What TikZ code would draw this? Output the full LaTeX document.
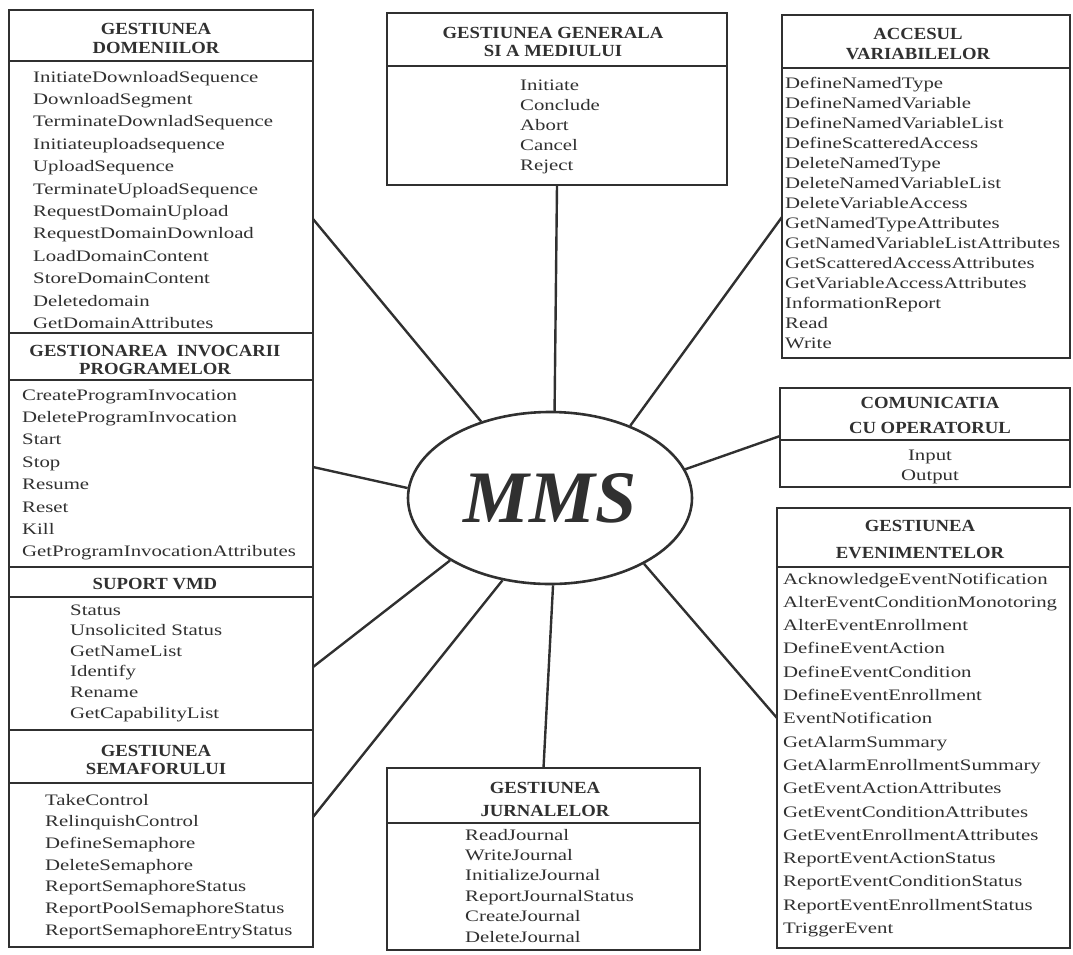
\documentclass[tikz,border=0pt]{standalone}
\usepackage{fontspec}
\setmainfont{Liberation Serif}[FakeStretch=1.3]
\newfontfamily\mmsfont{Liberation Serif}
\newfontfamily\ttlfont{Liberation Serif}[FakeStretch=1.1]
\usetikzlibrary{shapes.geometric}
\definecolor{ink}{HTML}{303030}
\tikzset{
  box/.style={draw=ink, line width=2.6pt, inner sep=0pt, outer sep=0pt, anchor=north west},
  itm/.style={font=\fontsize{16}{18}\selectfont, inner sep=0pt, text=ink},
  ttl/.style={font=\ttlfont\fontsize{17}{19}\selectfont\bfseries, inner sep=0pt, text=ink},
  conn/.style={draw=ink, line width=2.4pt},
  mmsnode/.style={ellipse, draw=ink, line width=2.6pt, minimum width=284pt, minimum height=172pt,
    inner sep=0pt, text=ink, font=\mmsfont\bfseries\itshape\fontsize{74}{74}\selectfont}
}
\newcommand{\sect}[5]{\node[box, minimum width={(#4-#2)*1pt}, minimum height={(#5-#3)*1pt}] (#1) at (#2,#3) {};}
\newcommand{\txtlines}[6]{\foreach \lbl [count=\idx] in {#6} {\node[#1] (#2-\idx) at (#3,{#4+(\idx-1)*#5}) {\lbl};}}
\begin{document}
\begin{tikzpicture}[x=1pt,y=-1pt]
\useasboundingbox (0,0) rectangle (1073,954);
% ---------- left column
\sect{dom-h}{9}{10}{313}{61}
\sect{dom}{9}{61}{313}{333}
\sect{prog-h}{9}{333}{313}{380}
\sect{prog}{9}{380}{313}{567}
\sect{vmd-h}{9}{567}{313}{597}
\sect{vmd}{9}{597}{313}{730}
\sect{sem-h}{9}{730}{313}{783}
\sect{sem}{9}{783}{313}{947}
% ---------- centre
\sect{gen-h}{387}{13}{727}{66}
\sect{gen}{387}{66}{727}{185}
\sect{jur-h}{387}{768}{700}{823}
\sect{jur}{387}{823}{700}{950}
% ---------- right column
\sect{acc-h}{782}{15}{1070}{68}
\sect{acc}{782}{68}{1070}{358}
\sect{com-h}{780}{388}{1070}{440}
\sect{com}{780}{440}{1070}{487}
\sect{evn-h}{777}{508}{1070}{567}
\sect{evn}{777}{567}{1070}{948}
% ---------- titles
\txtlines{ttl,anchor=base}{domt}{156}{34}{19}{GESTIUNEA,DOMENIILOR}
\txtlines{ttl,anchor=base}{progt}{155}{356}{18}{GESTIONAREA\ \ INVOCARII,PROGRAMELOR}
\txtlines{ttl,anchor=base}{vmdt}{155}{589}{0}{SUPORT VMD}
\txtlines{ttl,anchor=base}{semt}{156}{756}{18}{GESTIUNEA,SEMAFORULUI}
\txtlines{ttl,anchor=base}{gent}{553}{38}{18}{GESTIUNEA GENERALA,SI A MEDIULUI}
\txtlines{ttl,anchor=base}{acct}{918}{39}{20}{ACCESUL,VARIABILELOR}
\txtlines{ttl,anchor=base}{comt}{930}{408}{25}{COMUNICATIA,CU OPERATORUL}
\txtlines{ttl,anchor=base}{evnt}{920}{531}{27}{GESTIUNEA,EVENIMENTELOR}
\txtlines{ttl,anchor=base}{jurt}{545}{793}{23}{GESTIUNEA,JURNALELOR}
% ---------- items
\txtlines{itm,anchor=base west}{domi}{33}{82}{22.4}{InitiateDownloadSequence,DownloadSegment,TerminateDownladSequence,Initiateuploadsequence,UploadSequence,TerminateUploadSequence,RequestDomainUpload,RequestDomainDownload,LoadDomainContent,StoreDomainContent,Deletedomain,GetDomainAttributes}
\txtlines{itm,anchor=base west}{progi}{22}{400}{22.4}{CreateProgramInvocation,DeleteProgramInvocation,Start,Stop,Resume,Reset,Kill,GetProgramInvocationAttributes}
\txtlines{itm,anchor=base west}{vmdi}{70}{615}{20.6}{Status,Unsolicited Status,GetNameList,Identify,Rename,GetCapabilityList}
\txtlines{itm,anchor=base west}{semi}{45}{805}{21.7}{TakeControl,RelinquishControl,DefineSemaphore,DeleteSemaphore,ReportSemaphoreStatus,ReportPoolSemaphoreStatus,ReportSemaphoreEntryStatus}
\txtlines{itm,anchor=base west}{geni}{520}{90}{20}{Initiate,Conclude,Abort,Cancel,Reject}
\txtlines{itm,anchor=base west}{acci}{785}{88}{20}{DefineNamedType,DefineNamedVariable,DefineNamedVariableList,DefineScatteredAccess,DeleteNamedType,DeleteNamedVariableList,DeleteVariableAccess,GetNamedTypeAttributes,GetNamedVariableListAttributes,GetScatteredAccessAttributes,GetVariableAccessAttributes,InformationReport,Read,Write}
\txtlines{itm,anchor=base}{comi}{930}{460}{20}{Input,Output}
\txtlines{itm,anchor=base west}{evni}{783}{584}{23.3}{AcknowledgeEventNotification,AlterEventConditionMonotoring,AlterEventEnrollment,DefineEventAction,DefineEventCondition,DefineEventEnrollment,EventNotification,GetAlarmSummary,GetAlarmEnrollmentSummary,GetEventActionAttributes,GetEventConditionAttributes,GetEventEnrollmentAttributes,ReportEventActionStatus,ReportEventConditionStatus,ReportEventEnrollmentStatus,TriggerEvent}
\txtlines{itm,anchor=base west}{juri}{465}{840}{20.4}{ReadJournal,WriteJournal,InitializeJournal,ReportJournalStatus,CreateJournal,DeleteJournal}
% ---------- centre ellipse
\node[mmsnode] (mms) at (550,498) {MMS};
% ---------- connectors
\coordinate (ydom) at (0,219);
\coordinate (yprog) at (0,467);
\coordinate (yvmd) at (0,667);
\coordinate (ysem) at (0,817);
\coordinate (yacc) at (0,217);
\coordinate (ycom) at (0,436);
\coordinate (yevn) at (0,718);
\draw[conn] (gen.south) -- (mms.87);
\draw[conn] (dom.east |- ydom) -- (mms.132);
\draw[conn] (prog.east |- yprog) -- (mms.176);
\draw[conn] (vmd.east |- yvmd) -- (mms.212);
\draw[conn] (sem.east |- ysem) -- (mms.240);
\draw[conn] (mms.272) -- (jur-h.north);
\draw[conn] (mms.325) -- (evn.west |- yevn);
\draw[conn] (mms.12) -- (com-h.west |- ycom);
\draw[conn] (mms.42) -- (acc.west |- yacc);
\end{tikzpicture}
\end{document}
